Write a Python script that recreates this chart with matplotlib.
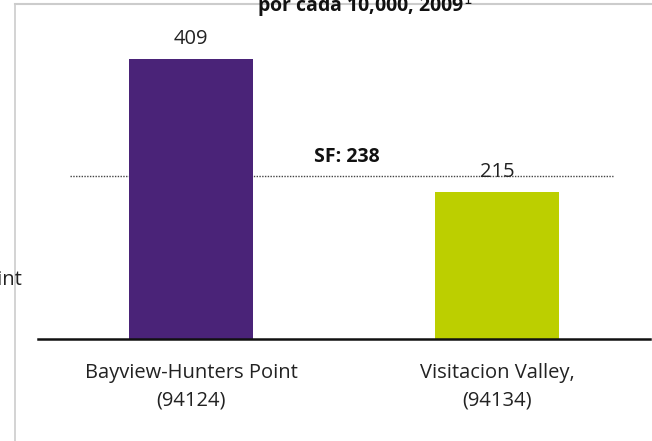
import matplotlib.pyplot as plt
from matplotlib.lines import Line2D

# data
categories = ['Bayview-Hunters Point\n(94124)', 'Visitacion Valley,\n(94134)']
values = [409, 215]
bar_colors = ['#4A2378', '#BCCF00']
sf_value = 238

plt.rcParams['font.family'] = ['Open Sans', 'DejaVu Sans']

fig = plt.figure(figsize=(6.52, 4.41), dpi=100)
W, H = 652., 441.
ax = fig.add_axes([38/W, (H-339)/H, 612/W, 308/H])

x = range(len(values))
ax.bar(x, values, width=124/306., color=bar_colors, zorder=3)
for i, v in enumerate(values):
    ax.text(i, v + 15, str(v), ha='center', va='bottom', fontsize=14.5,
            color='#222222', zorder=4)

# SF reference line (behind the bars)
ax.hlines(sf_value, -0.395, 1.379, colors='#444444', linestyles=(0, (1, 1)),
          lw=1, zorder=2)
ax.text(0.51, sf_value + 14, 'SF: %d' % sf_value, ha='center', va='bottom',
        fontsize=14, fontweight='bold', color='#111111')

ax.set_xlim(-0.5, 1.5)
ax.set_ylim(0, 450)
ax.set_yticks([])
ax.set_xticks(list(x))
ax.set_xticklabels(categories, fontsize=14.5, color='#222222', linespacing=1.5)
ax.tick_params(axis='x', length=0, pad=17)
for s in ['top', 'right', 'left']:
    ax.spines[s].set_visible(False)
ax.spines['bottom'].set_linewidth(1.8)
ax.spines['bottom'].set_color('#111111')
ax.spines['bottom'].set_zorder(5)

# outer frame pieces and cut-off texts
fig.add_artist(Line2D([15/W, 1], [1-3.5/H, 1-3.5/H], color='#cccccc', lw=1.5))
fig.add_artist(Line2D([15/W, 15/W], [0, 1-3.5/H], color='#cccccc', lw=1.2))
fig.text(365/W, 1-6/H, 'por cada 10,000, 2009$^{1}$', ha='center', va='center',
         fontsize=14, fontweight='bold', color='#111111')
fig.text(22/W, 1-280/H, 'Bayview-Hunters Point', ha='right', va='center',
         fontsize=14.5, color='#222222')

fig.savefig('out.png', dpi=100)
